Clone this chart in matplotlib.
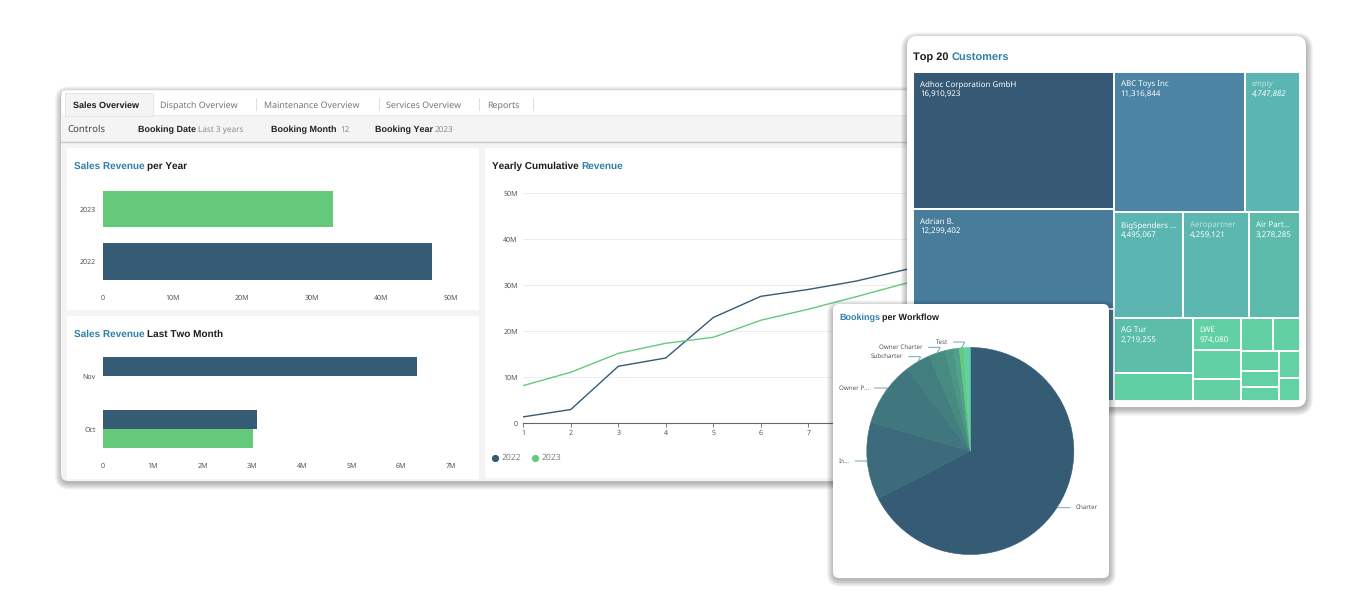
#!/usr/bin/env python3
# -*- coding: utf-8 -*-
import math

import matplotlib
matplotlib.use('Agg')
import matplotlib.pyplot as plt
from matplotlib.colors import LinearSegmentedColormap
from matplotlib.patches import FancyBboxPatch, Rectangle

plt.rcParams['font.family'] = ['Noto Sans', 'DejaVu Sans']
plt.rcParams['text.hinting'] = 'no_hinting'
plt.rcParams['text.hinting_factor'] = 1

W, H = 1366, 613

DARK = '#365b75'
GREEN = '#65c97a'
BLUE = '#2f7fa8'
INK = '#1c1c1c'
TICK = '#555555'
BOLD_FONT = 'Liberation Sans'

# sales revenue per year
years = ['2022', '2023']
year_revenue = [47.2, 33.1]

# sales revenue last two months
months = ['Oct', 'Nov']
month_revenue_2022 = [3.10, 6.31]
month_revenue_2023 = [3.02, 0]

# yearly cumulative revenue (the last months sit behind the treemap card)
line_months = [1, 2, 3, 4, 5, 6, 7, 8, 9, 10]
cumulative_2022 = [1.4, 3.0, 12.4, 14.2, 23.0, 27.6, 29.1, 30.9, 33.3, 35.6]
cumulative_2023 = [8.2, 11.1, 15.2, 17.4, 18.7, 22.4, 24.8, 27.5, 30.3, 33.0]

# top 20 customers
customer_names = ['Adhoc Corporation GmbH', 'Adrian B.', '', 'ABC Toys Inc', 'empty',
                  'BigSpenders ...', 'Aeropartner', 'Air Part...', 'AG Tur', '', 'LWE',
                  '', '', '', '', '', '', '', '', '']
customer_values = [16910923, 12299402, 11400000, 11316844, 4747882,
                   4495067, 4259121, 3278285, 2719255, 1340000, 974080,
                   870000, 670000, 640000, 540000, 470000, 370000, 330000, 340000, 290000]
# how the tiles nest, by index into customer_values
customer_tree = [[0, 1, 2],
                 [[3, 4],
                  [5, 6, 7],
                  [[8, 9], [10, 11, 12], [[13, 14], [[15, 16, 17], [18, 19]]]]]]

# bookings per workflow
workflow_names = ['Charter', 'In...', 'Owner P...', 'Subcharter', 'Owner Charter', '', '', 'Test', '']
workflow_shares = [67.4, 12.1, 10.1, 3.9, 2.6, 1.3, 0.9, 0.7, 1.0]
workflow_colors = ['#365b75', '#3e6b7b', '#40767e', '#427e7f', '#468a80', '#4a9586', '#4ea28b', '#66c97a', '#5fcfa5']

tile_cmap = LinearSegmentedColormap.from_list('tiles', [
    (0.0, '#62d1a3'), (0.08, '#61cfa4'), (0.16, '#5cbda9'),
    (0.28, '#5bb5b2'), (0.67, '#4c84a3'), (1.0, '#365a75')])


def box_axes(x0, y0, x1, y1, zorder):
    ax = fig.add_axes([x0 / W, 1 - y1 / H, (x1 - x0) / W, (y1 - y0) / H], zorder=zorder)
    ax.patch.set_alpha(0)
    return ax


def overlay(zorder):
    # full figure axes in image pixels, y pointing down
    ax = box_axes(0, 0, W, H, zorder)
    ax.set_xlim(0, W)
    ax.set_ylim(H, 0)
    ax.axis('off')
    return ax


def card(ax, x0, y0, x1, y1, radius, color='white', shadow=False):
    if shadow:
        for grow in range(1, 8):
            ax.add_patch(FancyBboxPatch((x0 - grow + 1, y0 - grow + 3.5), x1 - x0 + 2 * grow - 1, y1 - y0 + 2 * grow - 2,
                                        boxstyle=f'round,pad=0,rounding_size={radius + grow}',
                                        fc='black', ec='none', alpha=0.045))
    ax.add_patch(FancyBboxPatch((x0, y0), x1 - x0, y1 - y0, boxstyle=f'round,pad=0,rounding_size={radius}',
                                fc=color, ec='none'))


def parts(ax, x, y, pieces, size):
    # run of bold text pieces in different colours on one baseline
    renderer = fig.canvas.get_renderer()
    for words, color in pieces:
        t = ax.text(x, y, words, color=color, fontsize=size, fontweight='bold', family=BOLD_FONT,
                    va='center', ha='left')
        x = ax.transData.inverted().transform(t.get_window_extent(renderer).extents[2:])[0]
        x += size * 0.38


def style_bars(ax, ticks, labels):
    for side in ax.spines.values():
        side.set_visible(False)
    ax.set_xticks(ticks, labels)
    ax.tick_params(axis='both', length=0, labelsize=5.1, labelcolor=TICK)


def tile_sum(node):
    if isinstance(node, list):
        return sum(tile_sum(n) for n in node)
    return customer_values[node]


def layout(node, x0, y0, x1, y1, across, out):
    # nested slice and dice, direction swaps at each level
    if not isinstance(node, list):
        out.append((node, x0, y0, x1, y1))
        return
    total = tile_sum(node)
    pos = x0 if across else y0
    for child in node:
        step = tile_sum(child) / total * ((x1 - x0) if across else (y1 - y0))
        if across:
            layout(child, pos, y0, pos + step, y1, False, out)
        else:
            layout(child, x0, pos, x1, pos + step, True, out)
        pos += step


fig = plt.figure(figsize=(W / 100, H / 100), dpi=100, facecolor='white')

# main dashboard panel
base = overlay(0)
card(base, 61, 90, 960, 481, 7, color='#f4f4f4', shadow=True)
base.add_patch(Rectangle((62, 91), 900, 24, fc='white', ec='none'))
base.add_patch(Rectangle((65, 93), 88, 23, fc='#f4f4f4', ec='#e2e2e2', lw=0.6))
base.plot([61, 960], [141.5, 141.5], color='#c4c4c4', lw=0.9)
base.plot([153, 960], [115, 115], color='#e6e6e6', lw=0.6)
base.add_patch(Rectangle((67, 148), 412, 162, fc='white', ec='none'))
base.add_patch(Rectangle((67, 315.5), 412, 163, fc='white', ec='none'))
base.add_patch(Rectangle((484.5, 148), 470, 330, fc='white', ec='none'))

parts(base, 73, 105.3, [('Sales Overview', INK)], 6.7)
tab_names = ['Dispatch Overview', 'Maintenance Overview', 'Services Overview', 'Reports']
tab_x = [160, 263.5, 386.5, 487.5]
for name, x in zip(tab_names, tab_x):
    base.text(x, 105.8, name, color='#777777', fontsize=6.4, va='center')
for x in [255.5, 379, 479, 533]:
    base.plot([x, x], [98, 110], color='#dddddd', lw=0.7)

base.text(67, 129.8, 'Controls', color='#444444', fontsize=6.9, va='center')
parts(base, 137.5, 129.8, [('Booking Date', '#222222')], 6.4)
base.text(198.5, 130.3, 'Last 3 years', color='#8c8c8c', fontsize=5.9, va='center')
parts(base, 271, 129.8, [('Booking Month', '#222222')], 6.5)
base.text(340, 130.3, '12', color='#8c8c8c', fontsize=5.9, va='center')
parts(base, 375, 129.8, [('Booking Year', '#222222')], 6.5)
base.text(435, 130.3, '2023', color='#8c8c8c', fontsize=5.9, va='center')

parts(base, 74, 166, [('Sales Revenue', BLUE), ('per Year', INK)], 6.95)
parts(base, 74, 334, [('Sales Revenue', BLUE), ('Last Two Month', INK)], 6.95)
parts(base, 491.5, 166, [('Yearly Cumulative', INK), ('Revenue', BLUE)], 7.1)

# revenue per year
ax1 = box_axes(103, 182.7, 451, 287.7, 1)
ax1.barh(years, year_revenue, height=0.69, color=[DARK, GREEN])
ax1.set_xlim(0, 50)
ax1.set_ylim(-0.5, 1.5)
style_bars(ax1, [0, 10, 20, 30, 40, 50], ['0', '10M', '20M', '30M', '40M', '50M'])
ax1.tick_params(axis='x', pad=5)
ax1.tick_params(axis='y', pad=5)

# revenue last two months
ax2 = box_axes(103, 350, 451, 455.5, 1)
ax2.barh([0.18, 1.18], month_revenue_2022, height=0.36, color=DARK)
ax2.barh([-0.18, 0.82], month_revenue_2023, height=0.36, color=GREEN)
ax2.set_xlim(0, 7)
ax2.set_ylim(-0.5, 1.5)
style_bars(ax2, range(8), ['0', '1M', '2M', '3M', '4M', '5M', '6M', '7M'])
ax2.set_yticks([0, 1], months)
ax2.tick_params(axis='x', pad=5)
ax2.tick_params(axis='y', pad=5)

# cumulative lines
ax3 = box_axes(523.3, 193.3, 1045.8, 423.3, 1)
ax3.plot(line_months, cumulative_2022, color=DARK, lw=1.0)
ax3.plot(line_months, cumulative_2023, color=GREEN, lw=1.0)
ax3.set_xlim(1, 12)
ax3.set_ylim(0, 50)
ax3.set_xticks(range(1, 13))
ax3.set_yticks([0, 10, 20, 30, 40, 50], ['0', '10M', '20M', '30M', '40M', '50M'])
ax3.grid(axis='y', color='#ececec', lw=0.7)
ax3.set_axisbelow(True)
for name in ['top', 'right', 'left']:
    ax3.spines[name].set_visible(False)
ax3.spines['bottom'].set_color('#666666')
ax3.spines['bottom'].set_linewidth(0.8)
ax3.tick_params(axis='x', length=3, width=0.6, color='#666666', labelsize=5.1, labelcolor=TICK, pad=1.5)
ax3.tick_params(axis='y', length=0, labelsize=5.1, labelcolor=TICK, pad=4)

base.plot([495], [457.5], 'o', color=DARK, ms=5.2, mew=0)
base.text(502, 457.8, '2022', color='#808080', fontsize=6.2, va='center')
base.plot([535], [457.5], 'o', color=GREEN, ms=5.2, mew=0)
base.text(542, 457.8, '2023', color='#808080', fontsize=6.2, va='center')

# treemap card on top of the panel
top_card = overlay(5)
card(top_card, 907, 36, 1306, 407, 10, shadow=True)
parts(top_card, 913, 57.3, [('Top 20', INK), ('Customers', BLUE)], 7.85)

ax4 = box_axes(913, 72, 1299.5, 401, 6)
ax4.set_xlim(0, 1)
ax4.set_ylim(1, 0)
ax4.axis('off')
tiles = []
layout(customer_tree, 0, 0, 1, 1, True, tiles)
for index, x0, y0, x1, y1 in tiles:
    value = customer_values[index]
    ax4.add_patch(Rectangle((x0, y0), x1 - x0, y1 - y0, fc=tile_cmap(value / max(customer_values)), ec='white', lw=1.4))
    name = customer_names[index]
    if name:
        faint = name in ['empty', 'Aeropartner']
        style = 'italic' if name == 'empty' else 'normal'
        ax4.annotate(name, (x0, y0), xytext=(5, -9.0), textcoords='offset points', va='center', ha='left',
                     fontsize=5.7, color='white', alpha=0.6 if faint else 1, fontstyle=style)
        ax4.annotate(f'{value:,}', (x0, y0), xytext=(5, -16.0), textcoords='offset points', va='center', ha='left',
                     fontsize=5.7, color='white', fontstyle=style)

# pie card over everything
pie_card = overlay(7)
card(pie_card, 833, 304, 1109, 578, 6, shadow=True)
parts(pie_card, 839, 318, [('Bookings', BLUE), ('per Workflow', INK)], 6.3)

ax5 = box_axes(970.3 - 129.4, 451 - 129.4, 970.3 + 129.4, 451 + 129.4, 8)
wedges, _ = ax5.pie(workflow_shares, colors=workflow_colors, startangle=90, counterclock=False)
ax5.set_xlim(-1.25, 1.25)
ax5.set_ylim(-1.25, 1.25)

# label ends in image pixels
label_ends = [(1075.7, 507.7), (849.5, 461), (869, 388), (903, 356.7), (923, 347.3), None, None, (948, 342), None]
for wedge, name, end in zip(wedges, workflow_names, label_ends):
    # same colour edge closes the seams between the slices
    wedge.set_edgecolor(wedge.get_facecolor())
    wedge.set_linewidth(0.4)
    if not name:
        continue
    mid = math.radians((wedge.theta1 + wedge.theta2) / 2)
    right = name == 'Charter'
    ax5.annotate(name, (math.cos(mid), math.sin(mid)), xytext=(end[0] / W, 1 - end[1] / H),
                 textcoords='figure fraction', ha='left' if right else 'right', va='center',
                 fontsize=4.5, color='#555555', annotation_clip=False,
                 arrowprops=dict(arrowstyle='-', color='#6fa5b0', lw=0.7, shrinkA=2, shrinkB=0,
                                 relpos=(0, 0.5) if right else (1, 0.5),
                                 connectionstyle='angle,angleA=0,angleB=60,rad=1'))

fig.savefig('out.png', dpi=100)
